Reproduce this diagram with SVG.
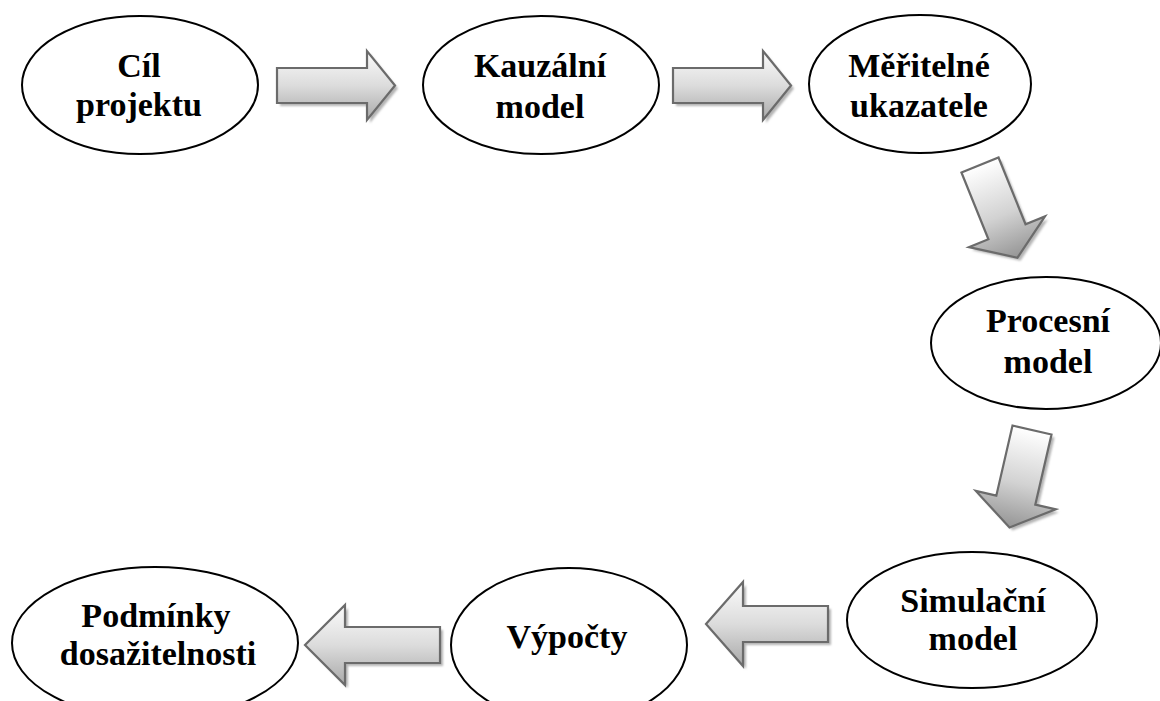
<svg xmlns="http://www.w3.org/2000/svg" width="1160" height="701" viewBox="0 0 1160 701">
  <style>
    .node ellipse { fill: #ffffff; stroke: #000000; stroke-width: 2; }
    .node text { font-weight: bold; font-size: 34px; fill: #000000; text-anchor: middle; }
    .arrow { stroke: #6b6b6b; stroke-width: 2.2; stroke-linejoin: miter; }
    .shadow { fill: #b4b4b4; stroke: none; filter: url(#soft); }
  </style>
  <defs>
    <!-- horizontal block arrows: light top, darker bottom -->
    <linearGradient id="gradH" x1="0" y1="0" x2="0" y2="1">
      <stop offset="0" stop-color="#fbfbfb"/>
      <stop offset="0.5" stop-color="#dcdcdc"/>
      <stop offset="1" stop-color="#a9a9a9"/>
    </linearGradient>
    <!-- downward block arrows: light tail, darker head -->
    <linearGradient id="gradV" x1="0" y1="0" x2="0" y2="1">
      <stop offset="0" stop-color="#ffffff"/>
      <stop offset="0.55" stop-color="#d2d2d2"/>
      <stop offset="1" stop-color="#959595"/>
    </linearGradient>
    <filter id="soft" x="-10%" y="-10%" width="120%" height="120%">
      <feGaussianBlur stdDeviation="1"/>
    </filter>
    <!-- right-pointing block arrow, origin at tail top -->
    <polygon id="rightArrow" points="0,17 90,17 90,0 118,34.5 90,69 90,52 0,52"/>
    <!-- down-pointing block arrow, origin at tail centre -->
    <polygon id="downArrow" points="-20,0 20,0 20,72 41,72 0,100 -41,72 -20,72"/>
  </defs>

  <g id="connectors">
    <!-- Cíl projektu -> Kauzální model -->
    <g id="arrow-1">
      <use href="#rightArrow" class="shadow" transform="translate(280,54)"/>
      <use href="#rightArrow" class="arrow" fill="url(#gradH)" transform="translate(277,51)"/>
    </g>
    <!-- Kauzální model -> Měřitelné ukazatele -->
    <g id="arrow-2">
      <use href="#rightArrow" class="shadow" transform="translate(676,54)"/>
      <use href="#rightArrow" class="arrow" fill="url(#gradH)" transform="translate(673,51)"/>
    </g>
    <!-- Měřitelné ukazatele -> Procesní model -->
    <g id="arrow-3">
      <use href="#downArrow" class="shadow" transform="translate(983,168) rotate(-22)"/>
      <use href="#downArrow" class="arrow" fill="url(#gradV)" transform="translate(980,165) rotate(-22)"/>
    </g>
    <!-- Procesní model -> Simulační model -->
    <g id="arrow-4">
      <use href="#downArrow" class="shadow" transform="translate(1035,433) rotate(13)"/>
      <use href="#downArrow" class="arrow" fill="url(#gradV)" transform="translate(1032,430) rotate(13)"/>
    </g>
    <!-- Simulační model -> Výpočty -->
    <g id="arrow-5">
      <polygon class="shadow" points="831,609 746,609 746,585 709,627 746,669 746,645 831,645"/>
      <polygon class="arrow" fill="url(#gradH)" points="828,606 743,606 743,582 706,624 743,666 743,642 828,642"/>
    </g>
    <!-- Výpočty -> Podmínky dosažitelnosti -->
    <g id="arrow-6">
      <polygon class="shadow" points="443,630 348,630 348,608 308,648 348,688 348,666 443,666"/>
      <polygon class="arrow" fill="url(#gradH)" points="440,627 345,627 345,605 305,645 345,685 345,663 440,663"/>
    </g>
  </g>

  <g id="nodes" font-family="Liberation Serif, Times New Roman, serif">
    <g id="node-cil-projektu" class="node">
      <ellipse cx="140" cy="85" rx="118" ry="69"/>
      <text x="139" y="77">Cíl</text>
      <text x="139" y="116">projektu</text>
    </g>

    <g id="node-kauzalni-model" class="node">
      <ellipse cx="541" cy="85" rx="118" ry="69"/>
      <text x="540" y="77">Kauzální</text>
      <text x="540" y="118">model</text>
    </g>

    <g id="node-meritelne-ukazatele" class="node">
      <ellipse cx="920" cy="84" rx="111" ry="69"/>
      <text x="919" y="77">Měřitelné</text>
      <text x="919" y="117">ukazatele</text>
    </g>

    <g id="node-procesni-model" class="node">
      <ellipse cx="1046" cy="343" rx="115" ry="66"/>
      <text x="1048" y="332">Procesní</text>
      <text x="1048" y="373">model</text>
    </g>

    <g id="node-simulacni-model" class="node">
      <ellipse cx="972" cy="620" rx="125" ry="68"/>
      <text x="973" y="612">Simulační</text>
      <text x="973" y="650">model</text>
    </g>

    <g id="node-vypocty" class="node">
      <ellipse cx="569" cy="645" rx="118" ry="77"/>
      <text x="567" y="648">Výpočty</text>
    </g>

    <g id="node-podminky-dosazitelnosti" class="node">
      <ellipse cx="155" cy="643" rx="143" ry="76"/>
      <text x="156" y="627">Podmínky</text>
      <text x="158" y="665">dosažitelnosti</text>
    </g>
  </g>
</svg>
